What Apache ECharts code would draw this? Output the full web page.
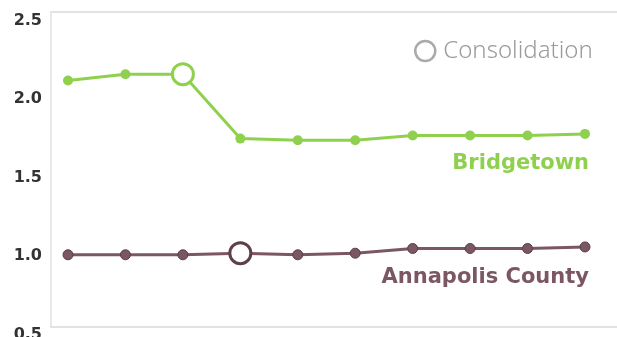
<!DOCTYPE html>
<html>
<head>
<meta charset="utf-8">
<script src="https://cdn.jsdelivr.net/npm/echarts@6/dist/echarts.min.js"></script>
<style>
html,body{margin:0;padding:0;background:#fff;}
#chart{width:617px;height:337px;}
</style>
</head>
<body>
<div id="chart"></div>
<script>
const categories = ['1', '2', '3', '4', '5', '6', '7', '8', '9', '10'];
const bridgetown = [2.07, 2.11, 2.11, 1.70, 1.69, 1.69, 1.72, 1.72, 1.72, 1.73];
const annapolis = [0.96, 0.96, 0.96, 0.97, 0.96, 0.97, 1.00, 1.00, 1.00, 1.01];
const bridgetownConsolidation = 2;
const annapolisConsolidation = 3;
const yMin = 0.5, yMax = 2.5, yStep = 0.5;
const seriesNames = ['Bridgetown', 'Annapolis County'];
const legendName = 'Consolidation';

const green = '#8fd14f';
const mauve = '#7b5663';
const boxColor = '#e2e2e2';

function buildData(values, consIdx, color, borderColor, name, labelDist) {
  return values.map((v, i) => {
    const item = { value: v };
    if (i === consIdx) {
      item.symbolSize = 21;
      item.itemStyle = { color: '#fff', borderColor: borderColor, borderWidth: 3 };
    }
    if (i === values.length - 1) {
      item.label = {
        show: true, position: 'bottom', distance: labelDist, align: 'right', offset: [4, 0],
        formatter: name, color: color, fontSize: 21, fontWeight: 'bold',
        fontFamily: 'DejaVu Sans'
      };
    }
    return item;
  });
}

const chart = echarts.init(document.getElementById('chart'));
chart.setOption({
  animation: false,
  backgroundColor: '#fff',
  legend: {
    data: [{ name: legendName, icon: 'circle' }],
    left: 414, top: 39, padding: 0,
    itemWidth: 20, itemHeight: 20,
    itemStyle: { color: '#fff', borderColor: '#aaaaaa', borderWidth: 2.5 },
    textStyle: { color: '#9b9b9b', fontSize: 24, lineHeight: 24, fontFamily: 'Noto Sans', fontWeight: 300, padding: [0, 0, 0, 3] }
  },
  grid: [
    { left: 68, right: 32, top: 13, bottom: 10, outerBoundsMode: 'none', containLabel: false },
    { left: 51, right: 0, top: 12, bottom: 10, show: false, outerBoundsMode: 'none', containLabel: false }
  ],
  xAxis: [
    { gridIndex: 0, type: 'category', data: categories, boundaryGap: false, show: false },
    { gridIndex: 1, type: 'value', position: 'bottom', axisLine: { show: true, onZero: false, lineStyle: { color: boxColor, width: 2 } }, axisTick: { show: false }, axisLabel: { show: false }, splitLine: { show: false } },
    { gridIndex: 1, type: 'value', position: 'top', axisLine: { show: true, onZero: false, lineStyle: { color: boxColor, width: 2 } }, axisTick: { show: false }, axisLabel: { show: false }, splitLine: { show: false } }
  ],
  yAxis: [
    {
      gridIndex: 0, type: 'value', min: yMin, max: yMax, interval: yStep, offset: 16,
      axisLine: { show: false }, axisTick: { show: false }, splitLine: { show: false },
      axisLabel: {
        margin: 10, color: '#333', fontSize: 16, fontWeight: 'bold', fontFamily: 'DejaVu Sans',
        verticalAlign: 'top', lineHeight: 15,
        formatter: v => v.toFixed(1)
      }
    },
    { gridIndex: 1, type: 'value', axisLine: { show: true, onZero: false, lineStyle: { color: boxColor, width: 1.5 } }, axisTick: { show: false }, axisLabel: { show: false }, splitLine: { show: false } }
  ],
  series: [
    {
      name: seriesNames[0], type: 'line', xAxisIndex: 0, yAxisIndex: 0,
      symbol: 'circle', symbolSize: 10,
      lineStyle: { color: green, width: 3 },
      itemStyle: { color: green },
      data: buildData(bridgetown, bridgetownConsolidation, green, green, seriesNames[0], 14),
      z: 3
    },
    {
      name: seriesNames[1], type: 'line', xAxisIndex: 0, yAxisIndex: 0,
      symbol: 'circle', symbolSize: 10,
      lineStyle: { color: mauve, width: 3 },
      itemStyle: { color: mauve, borderColor: '#5a3d48', borderWidth: 1 },
      data: buildData(annapolis, annapolisConsolidation, mauve, '#5e404b', seriesNames[1], 15),
      z: 3
    },
    {
      name: legendName, type: 'line', xAxisIndex: 0, yAxisIndex: 0, data: [],
      itemStyle: { color: '#fff', borderColor: '#aaaaaa' }
    }
  ]
});
</script>
</body>
</html>
